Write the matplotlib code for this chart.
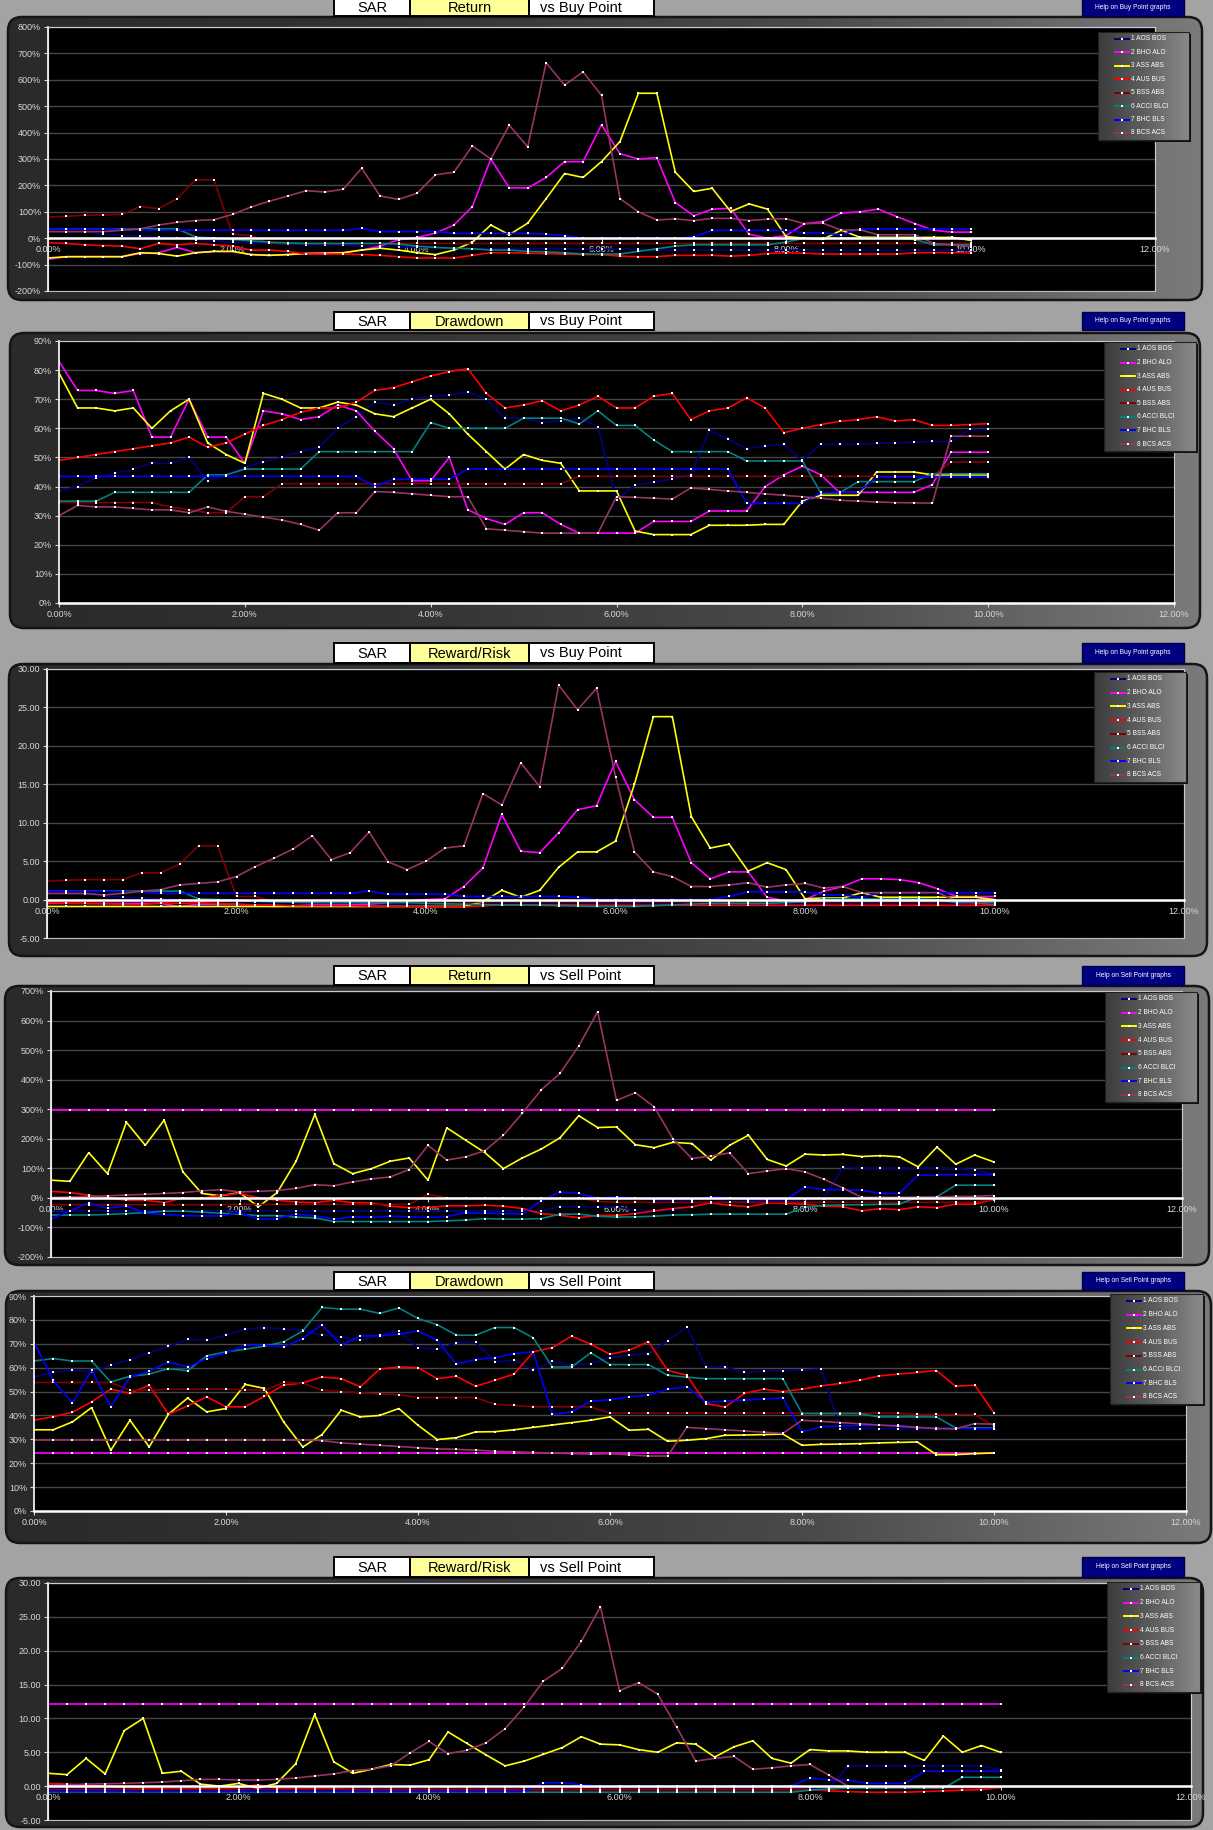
import matplotlib
matplotlib.use('Agg')
import matplotlib.pyplot as plt
from matplotlib.patches import FancyBboxPatch, Rectangle
from matplotlib.colors import LinearSegmentedColormap
import numpy as np

plt.rcParams['font.family'] = ['Liberation Sans', 'DejaVu Sans']

W, H = 1213, 1830

# SAR step (x axis, %)
SAR_PCT = [0.0, 0.2, 0.4, 0.6, 0.8, 1.0, 1.2, 1.4, 1.6, 1.8,
           2.0, 2.2, 2.4, 2.6, 2.8, 3.0, 3.2, 3.4, 3.6, 3.8,
           4.0, 4.2, 4.4, 4.6, 4.8, 5.0, 5.2, 5.4, 5.6, 5.8,
           6.0, 6.2, 6.4, 6.6, 6.8, 7.0, 7.2, 7.4, 7.6, 7.8,
           8.0, 8.2, 8.4, 8.6, 8.8, 9.0, 9.2, 9.4, 9.6, 9.8,
           10.0]

NAMES = ['1 AOS BOS', '2 BHO ALO', '3 ASS ABS', '4 AUS BUS',
         '5 BSS ABS', '6 ACCI BLCI', '7 BHC BLS', '8 BCS ACS']
COLORS = ['#000080', '#ff00ff', '#ffff00', '#ff0000',
          '#800000', '#008080', '#0000ff', '#993366']

# ---------------- Return vs Buy Point (%) ----------------
ret_buy_1 = [25, 25, 25, 15, 10, 10, 5, 0, -5, -10,
             -15, -17, -20, -22, -25, -25, -27, -30, -30, -32,
             -35, -35, -37, -40, -40, -40, -40, -40, -40, -42,
             -42, -40, -42, -45, -45, -45, -45, -45, -45, -45,
             -45, -45, -45, -45, -45, -45, -45, -45, -45, -45,
             -45]
ret_buy_2 = [-80, -70, -70, -70, -70, -58, -55, -35, -55, -50,
             -50, -62, -65, -62, -58, -55, -55, -45, -30, -6,
             3, 19, 50, 120, 300, 191, 190, 230, 290, 290,
             430, 320, 300, 305, 135, 85, 110, 113, 15, 0,
             10, 55, 63, 95, 100, 110, 82, 55, 30, 23,
             23]
ret_buy_3 = [-75, -70, -70, -70, -70, -55, -58, -68, -55, -50,
             -50, -62, -65, -62, -58, -58, -55, -45, -38, -45,
             -55, -62, -45, -15, 50, 13, 57, 150, 245, 230,
             290, 366, 549, 549, 250, 177, 189, 101, 130, 110,
             6, 0, -4, 30, 4, 3, 3, 3, 3, 3,
             -8]
ret_buy_4 = [-17, -20, -25, -28, -30, -40, -20, -25, -20, -25,
             -30, -45, -45, -50, -60, -60, -60, -62, -65, -70,
             -75, -75, -75, -65, -55, -55, -57, -58, -60, -62,
             -62, -68, -70, -70, -65, -65, -65, -68, -65, -58,
             -55, -57, -60, -60, -60, -60, -60, -55, -55, -55,
             -55]
ret_buy_5 = [80, 83, 87, 88, 90, 120, 112, 150, 222, 220,
             15, 10, -20, -20, -20, -20, -20, -20, -20, -20,
             -20, -20, -20, -20, -20, -20, -20, -20, -20, -20,
             -20, -20, -20, -20, -20, -20, -20, -20, -20, -20,
             -20, -20, -20, -20, -20, -20, -20, -20, -20, -20,
             -20]
ret_buy_6 = [35, 35, 35, 35, 35, 35, 35, 35, 5, 0,
             -5, -10, -15, -18, -20, -20, -20, -20, -20, -22,
             -30, -35, -38, -40, -45, -45, -50, -52, -55, -60,
             -60, -60, -50, -40, -30, -25, -25, -25, -25, -25,
             -15, 0, 0, 0, 0, 0, 0, -5, -25, -25,
             -25]
ret_buy_7 = [35, 35, 35, 35, 33, 32, 30, 30, 30, 30,
             30, 30, 30, 30, 30, 30, 30, 37, 25, 25,
             25, 25, 18, 18, 18, 18, 18, 15, 10, 0,
             0, 0, 0, 0, 0, 5, 30, 30, 30, 30,
             30, 20, 20, 12, 35, 35, 35, 35, 35, 35,
             35]
ret_buy_8 = [25, 25, 25, 25, 30, 35, 50, 60, 67, 70,
             90, 118, 140, 160, 180, 175, 185, 265, 160, 147,
             170, 240, 250, 350, 300, 428, 346, 664, 580, 630,
             541, 150, 100, 69, 73, 67, 75, 75, 67, 72,
             74, 55, 57, 30, 32, 13, 13, 13, -20, -25,
             -32]

# ---------------- Drawdown vs Buy Point (%) ----------------
dd_buy_1 = [38.5, 40, 43, 44.5, 46, 48, 48, 50, 42, 44,
            46.5, 48.5, 50, 52, 53.5, 60, 64, 69, 68, 70,
            71, 71.5, 72.5, 70, 63.5, 63.5, 62, 62.5, 63.5, 60.5,
            35.3, 40.5, 41.5, 42.6, 44, 59.3, 56.4, 53, 54, 54.5,
            49, 54.5, 54.5, 54.5, 54.8, 55, 55.2, 55.5, 55.5, 59.6,
            59.6]
dd_buy_2 = [83, 73, 73, 72, 73, 57, 57, 70, 57, 57,
            48, 66, 65, 63, 64, 68, 66, 59, 53, 42,
            42, 50, 32, 29, 27, 31, 31, 27, 24, 24,
            24, 24, 28, 28, 28, 31.6, 31.6, 31.6, 40, 44,
            47, 44, 38, 38, 38, 38, 38, 40.7, 51.8, 51.8,
            51.8]
dd_buy_3 = [79, 67, 67, 66, 67, 60, 66, 70, 55, 51,
            48, 72, 70, 67, 67, 69, 68, 65, 64, 67,
            70, 65, 58, 52, 46, 51, 49, 48, 38.5, 38.5,
            38.5, 24.7, 23.5, 23.5, 23.5, 26.7, 26.7, 26.7, 27, 27,
            35, 37, 37, 37, 45, 45, 45, 44, 44, 44,
            44]
dd_buy_4 = [49, 50, 51, 52, 53, 54, 55, 57, 53.5, 55,
            58, 61, 63, 65.5, 67, 67, 69, 73, 74, 76,
            78, 79.5, 80.5, 72, 67, 68, 69.5, 66, 68, 71,
            67, 67, 71, 72, 63, 66, 67, 70.5, 67, 58.5,
            60, 61.3, 62.4, 63, 64, 62.5, 63, 61, 61, 61.3,
            61.6]
dd_buy_5 = [34.5, 34.5, 34.5, 34.5, 34.5, 34.5, 33, 32, 31, 31,
            36.5, 36.5, 41, 41, 41, 41, 41, 41, 41, 41,
            41, 41, 41, 41, 41, 41, 41, 41, 43.5, 43.5,
            43.5, 43.5, 43.5, 43.5, 43.5, 43.5, 43.5, 43.5, 43.5, 43.5,
            43.5, 43.5, 43.5, 43.5, 43.5, 43.5, 43.5, 43.5, 48.4, 48.4,
            48.4]
dd_buy_6 = [35, 35, 35, 38, 38, 38, 38, 38, 44, 44,
            46, 46, 46, 46, 52, 52, 52, 52, 52, 52,
            62, 60, 60, 60, 60, 63.5, 63.5, 63.5, 61.5, 66,
            61, 61, 56, 52, 52, 52, 52, 48.8, 48.8, 48.8,
            48.8, 37.8, 37.8, 41.7, 41.7, 41.7, 41.7, 44.4, 44.4, 44.4,
            44.4]
dd_buy_7 = [43.5, 43.5, 43.5, 43.5, 43.5, 43.5, 43.5, 43.5, 43.5, 43.5,
            43.5, 43.5, 43.5, 43.5, 43.5, 43.5, 43.5, 40, 42.5, 42.5,
            42.5, 42.5, 46, 46, 46, 46, 46, 46, 46, 46,
            46, 46, 46, 46, 46, 46, 46, 34.2, 34.2, 34.2,
            34.2, 38, 38, 38, 43.3, 43.3, 43.3, 43.3, 43.3, 43.3,
            43.3]
dd_buy_8 = [30, 33.5, 33, 33, 32.5, 32, 32, 31, 33, 31.5,
            30.5, 29.5, 28.5, 27, 25, 31, 31, 38.3, 38, 37.5,
            37, 36.5, 36.5, 25.5, 25, 24.5, 24, 24, 24, 24,
            36.5, 36.3, 36, 35.7, 39.5, 39, 38.5, 38, 37.5, 37,
            36.5, 36, 35.3, 35, 34.7, 34.5, 34.4, 34.3, 57.3, 57.3,
            57.3]

# ---------------- Reward/Risk vs Buy Point ----------------
rr_buy_1 = [0.8, 0.8, 0.7, 0.5, 0.3, 0.2, 0.1, 0.0, -0.1, -0.2,
            -0.3, -0.3, -0.4, -0.4, -0.5, -0.5, -0.5, -0.6, -0.6, -0.6,
            -0.6, -0.6, -0.6, -0.6, -0.6, -0.6, -0.6, -0.6, -0.6, -0.6,
            -0.6, -0.6, -0.6, -0.6, -0.6, -0.6, -0.6, -0.6, -0.6, -0.6,
            -0.6, -0.6, -0.6, -0.6, -0.6, -0.6, -0.6, -0.6, -0.6, -0.6,
            -0.6]
rr_buy_2 = [-0.5, -0.5, -0.5, -0.5, -0.5, -0.5, -0.5, -0.9, -0.6, -0.6,
            -0.6, -0.8, -0.9, -0.8, -0.7, -0.7, -0.7, -0.6, -0.4, -0.2,
            0.0, 0.1, 1.7, 4.1, 11.1, 6.3, 6.1, 8.7, 11.7, 12.2,
            18.0, 13.0, 10.7, 10.7, 4.8, 2.7, 3.6, 3.6, 0.3, -0.2,
            0.0, 1.1, 1.7, 2.7, 2.7, 2.6, 2.2, 1.4, 0.4, 0.4,
            0.4]
rr_buy_3 = [-0.9, -0.9, -0.9, -0.9, -0.9, -0.9, -0.9, -0.9, -0.9, -0.9,
            -0.9, -0.9, -0.9, -0.9, -0.9, -0.9, -0.9, -0.9, -0.9, -0.9,
            -0.9, -0.9, -0.9, -0.3, 1.2, 0.3, 1.2, 4.2, 6.2, 6.2,
            7.6, 15.0, 23.8, 23.8, 10.8, 6.7, 7.2, 3.7, 4.8, 3.9,
            0.1, 0.2, 0.2, 0.9, 0.3, 0.3, 0.3, 0.3, 0.3, 0.3,
            0.0]
rr_buy_4 = [-0.4, -0.45, -0.5, -0.55, -0.6, -0.7, -0.4, -0.5, -0.4, -0.5,
            -0.6, -0.7, -0.7, -0.8, -0.8, -0.8, -0.8, -0.85, -0.9, -0.9,
            -0.95, -0.95, -0.95, -0.8, -0.7, -0.7, -0.7, -0.7, -0.7, -0.75,
            -0.75, -0.75, -0.75, -0.75, -0.75, -0.75, -0.75, -0.75, -0.75, -0.75,
            -0.75, -0.75, -0.75, -0.75, -0.75, -0.75, -0.75, -0.75, -0.75, -0.75,
            -0.75]
rr_buy_5 = [2.4, 2.5, 2.6, 2.6, 2.6, 3.5, 3.5, 4.6, 7.0, 7.0,
            0.4, 0.4, -0.3, -0.3, -0.3, -0.3, -0.3, -0.3, -0.3, -0.3,
            -0.3, -0.3, -0.3, -0.3, -0.3, -0.3, -0.3, -0.3, -0.3, -0.3,
            -0.3, -0.3, -0.3, -0.3, -0.3, -0.3, -0.3, -0.3, -0.3, -0.3,
            -0.3, -0.3, -0.3, -0.3, -0.3, -0.3, -0.3, -0.3, -0.3, -0.3,
            -0.3]
rr_buy_6 = [1.1, 1.1, 1.1, 1.1, 1.1, 1.1, 1.1, 1.1, 0.1, 0.0,
            -0.1, -0.2, -0.3, -0.35, -0.4, -0.4, -0.4, -0.4, -0.4, -0.4,
            -0.5, -0.55, -0.6, -0.65, -0.7, -0.7, -0.75, -0.8, -0.85, -0.9,
            -0.9, -0.9, -0.8, -0.7, -0.6, -0.5, -0.5, -0.5, -0.5, -0.4,
            -0.3, 0.1, 0.1, 0.1, 0.1, 0.1, 0.1, 0.0, -0.4, -0.4,
            -0.4]
rr_buy_7 = [1.1, 1.1, 1.1, 1.1, 1.0, 1.0, 0.8, 0.8, 0.8, 0.8,
            0.8, 0.8, 0.8, 0.8, 0.8, 0.8, 0.8, 1.1, 0.7, 0.7,
            0.7, 0.7, 0.4, 0.4, 0.4, 0.4, 0.4, 0.4, 0.3, 0.0,
            0.0, 0.0, 0.0, 0.0, 0.0, 0.0, 0.4, 1.0, 1.0, 1.0,
            1.0, 0.6, 0.6, 0.3, 0.9, 0.9, 0.9, 0.9, 0.9, 0.9,
            0.9]
rr_buy_8 = [0.8, 0.8, 0.8, 0.6, 0.8, 1.1, 1.3, 1.9, 2.1, 2.3,
            3.0, 4.3, 5.4, 6.6, 8.3, 5.2, 6.1, 8.8, 4.9, 3.9,
            5.0, 6.7, 7.0, 13.8, 12.3, 17.8, 14.7, 27.9, 24.7, 27.5,
            16.0, 6.2, 3.6, 3.0, 1.7, 1.7, 1.9, 2.2, 1.6, 1.9,
            2.1, 1.5, 1.7, 0.9, 0.9, 0.9, 0.9, 0.9, -0.2, -0.4,
            -0.7]

# ---------------- Return vs Sell Point (%) ----------------
ret_sell_1 = [-44, -44, -44, -44, -44, -44, -44, -44, -44, -44,
              -44, -44, -44, -44, -44, -44, -44, -44, -44, -44,
              -44, -44, -44, -44, -44, -44, -44, -30, -30, -30,
              -30, -42, -42, -42, -30, -13, -13, -13, -13, -13,
              -5, -3, 103, 100, 100, 100, 100, 100, 99, 96,
              80]
ret_sell_2 = [296, 296, 296, 296, 296, 296, 296, 296, 296, 296,
              296, 296, 296, 296, 296, 296, 296, 296, 296, 296,
              296, 296, 296, 296, 296, 296, 296, 296, 296, 296,
              296, 296, 296, 296, 296, 296, 296, 296, 296, 296,
              296, 296, 296, 296, 296, 296, 296, 296, 296, 296,
              296]
ret_sell_3 = [60, 56, 153, 82, 256, 178, 263, 88, 15, 7,
              18, -30, 18, 124, 283, 116, 82, 99, 124, 135,
              60, 237, 195, 154, 99, 135, 165, 203, 278, 238,
              240, 180, 170, 188, 184, 128, 178, 212, 130, 108,
              148, 145, 147, 140, 143, 139, 105, 172, 114, 145,
              122]
ret_sell_4 = [22, 18, 9, 0, -8, -8, -16, 0, -2, 9,
              15, 0, -8, -14, -16, -8, -16, -17, -28, -33,
              -33, -27, -27, -25, -28, -36, -53, -59, -67, -59,
              -59, -53, -44, -36, -30, -17, -25, -30, -17, -19,
              -21, -28, -30, -44, -36, -40, -30, -33, -21, -21,
              -6]
ret_sell_5 = [-23, -23, -23, -23, -23, -23, -23, -23, -23, -23,
              -22, -22, -22, -22, -22, -22, -22, -22, -22, -22,
              12, 0, 0, 0, 0, 0, 0, 0, 0, -12,
              -15, -15, -15, -15, -15, -15, -15, -15, -15, -15,
              -15, -15, -15, -15, -15, -15, -15, -15, -15, -15,
              -5]
ret_sell_6 = [-58, -58, -58, -56, -53, -50, -45, -45, -48, -52,
              -55, -60, -60, -65, -68, -80, -80, -80, -80, -80,
              -80, -78, -75, -70, -72, -72, -70, -55, -55, -62,
              -65, -64, -62, -58, -57, -55, -55, -55, -55, -55,
              -32, -25, -24, -23, -22, -21, 3, 4, 43, 43,
              43]
ret_sell_7 = [-72, -44, -17, -35, -27, -52, -56, -60, -61, -61,
              -50, -72, -70, -55, -61, -72, -64, -66, -62, -64,
              -66, -63, -50, -52, -53, -55, -10, 20, 15, 0,
              3, 0, -6, -6, -6, 3, 0, -6, -6, -6,
              37, 28, 28, 26, 15, 15, 77, 77, 79, 79,
              79]
ret_sell_8 = [2, 3, 5, 7, 10, 12, 15, 18, 24, 28,
              20, 22, 25, 32, 45, 41, 54, 64, 71, 96,
              178, 128, 139, 159, 212, 286, 365, 421, 514, 630,
              330, 356, 308, 199, 133, 142, 152, 82, 91, 99,
              88, 63, 34, 2, 2, 2, 3, 3, 5, 5,
              8]

# ---------------- Drawdown vs Sell Point (%) ----------------
dd_sell_1 = [56.1, 58, 59, 58.2, 61, 63.4, 66.2, 69, 71.8, 71.5,
             73.6, 76.1, 76.8, 76.1, 75.7, 73.6, 72.9, 71.5, 73.6, 75.3,
             68.4, 67.7, 70.4, 70.6, 62.4, 63.1, 59, 62.7, 61, 61.7,
             64.2, 65.2, 65.9, 71.2, 77.1, 60.3, 60.3, 58, 58.5, 58.8,
             59, 59.4, 34.5, 34.5, 34.5, 34.5, 34.5, 34.5, 34.5, 34.5,
             34.5]
dd_sell_2 = [24.3, 24.3, 24.3, 24.3, 24.3, 24.3, 24.3, 24.3, 24.3, 24.3,
             24.3, 24.3, 24.3, 24.3, 24.3, 24.3, 24.3, 24.3, 24.3, 24.3,
             24.3, 24.3, 24.3, 24.3, 24.3, 24.3, 24.3, 24.3, 24.3, 24.3,
             24.3, 24.3, 24.3, 24.3, 24.3, 24.3, 24.3, 24.3, 24.3, 24.3,
             24.3, 24.3, 24.3, 24.3, 24.3, 24.3, 24.3, 24.3, 24.3, 24.3,
             24.3]
dd_sell_3 = [34, 34, 37.3, 43.3, 25.4, 38, 26.8, 40.5, 47.3, 41.5,
             42.9, 53, 51.3, 37.3, 26.8, 32, 42.2, 39.4, 40, 42.9,
             35.9, 29.9, 30.7, 33.1, 33.2, 34, 35, 36, 37, 38,
             39.4, 33.8, 34.2, 29.2, 29.6, 30.3, 31.7, 31.8, 32, 32.2,
             27.5, 27.9, 28, 28.2, 28.5, 28.7, 28.9, 23.6, 23.6, 24,
             24.3]
dd_sell_4 = [38, 39.5, 41.3, 45.7, 51, 49.2, 52.7, 40.5, 44, 47.8,
             43.6, 43.6, 48, 52.7, 53.6, 56.1, 55.4, 52, 59.4, 60.3,
             60, 55.4, 56.4, 52.2, 54.7, 57.3, 66.6, 68.4, 73.2, 69.8,
             65.6, 67.3, 70.9, 58.9, 56.8, 45, 43.5, 49.2, 51, 50,
             51, 52.4, 53.4, 54.7, 56.5, 57.3, 58, 58.8, 52.2, 52.7,
             41]
dd_sell_5 = [53.8, 53.8, 53.8, 53.8, 53.8, 50.5, 50.5, 51, 51, 51,
             51, 50.8, 50.5, 53.8, 53.5, 50.5, 50, 49.5, 49, 48.7,
             47.5, 47.5, 47.5, 47.5, 44.7, 44.2, 43.6, 43.6, 43.6, 43.6,
             41, 41, 41, 41, 41, 41, 41, 41, 41, 41,
             41, 41, 41, 41, 41, 41, 40.4, 40.4, 40.4, 40.4,
             35.5]
dd_sell_6 = [62.8, 63.8, 62.8, 62.8, 54, 56.4, 57.3, 59.6, 58.7, 65,
             66.6, 67.7, 69, 70.8, 75.4, 85.2, 84.5, 84.5, 82.7, 85,
             80.6, 78, 73.6, 73.6, 76.8, 76.8, 72.5, 60.3, 60.3, 66.2,
             61.3, 61.3, 61.3, 56.8, 56, 55.4, 55.4, 55.4, 55.4, 55.4,
             40.8, 40.8, 40.8, 40.8, 39.4, 39.4, 39.4, 39.4, 34.8, 34.8,
             34.8]
dd_sell_7 = [70.8, 54.7, 45.2, 59, 43.6, 56.1, 58.5, 62.4, 60.3, 63.8,
             66.2, 69.4, 69.4, 68.7, 72.2, 78, 69.4, 73.3, 73.3, 74,
             75.4, 71.5, 61.5, 63.4, 64.2, 65.9, 66.6, 40.4, 41.5, 46,
             46.6, 47.8, 48.5, 51, 52, 45.5, 46, 46.5, 46.9, 47.3,
             33.1, 35.3, 35.5, 35.8, 35.9, 35.9, 34.9, 34.7, 34.6, 34.5,
             34.5]
dd_sell_8 = [29.7, 29.7, 29.7, 29.7, 29.7, 29.7, 29.7, 29.7, 29.7, 29.7,
             29.7, 29.7, 29.7, 29.7, 29.7, 29.5, 28.5, 28, 27.5, 27,
             26.5, 26, 25.8, 25.5, 25, 24.8, 24.5, 24.3, 24, 23.8,
             24, 23.5, 23, 23, 35, 34.5, 34, 33.5, 33, 32.5,
             38, 37.5, 37, 36.5, 36, 35.5, 35, 34.5, 34.4, 36.6,
             36.3]

# ---------------- Reward/Risk vs Sell Point ----------------
rr_sell_1 = [-0.3, -0.3, -0.3, -0.3, -0.3, -0.3, -0.3, -0.3, -0.3, -0.3,
             -0.3, -0.3, -0.3, -0.3, -0.3, -0.3, -0.3, -0.3, -0.3, -0.3,
             -0.3, -0.3, -0.3, -0.3, -0.3, -0.3, -0.3, -0.3, -0.3, -0.3,
             -0.3, -0.3, -0.3, -0.3, -0.3, -0.3, -0.3, -0.3, -0.3, -0.3,
             -0.3, -0.3, 3.0, 3.0, 3.0, 3.0, 3.0, 3.0, 3.0, 3.0,
             2.4]
rr_sell_2 = [12.1, 12.1, 12.1, 12.1, 12.1, 12.1, 12.1, 12.1, 12.1, 12.1,
             12.1, 12.1, 12.1, 12.1, 12.1, 12.1, 12.1, 12.1, 12.1, 12.1,
             12.1, 12.1, 12.1, 12.1, 12.1, 12.1, 12.1, 12.1, 12.1, 12.1,
             12.1, 12.1, 12.1, 12.1, 12.1, 12.1, 12.1, 12.1, 12.1, 12.1,
             12.1, 12.1, 12.1, 12.1, 12.1, 12.1, 12.1, 12.1, 12.1, 12.1,
             12.1]
rr_sell_3 = [1.9, 1.7, 4.1, 1.8, 8.2, 10.0, 1.9, 2.2, 0.3, 0.0,
             0.4, -0.3, 0.4, 3.3, 10.6, 3.6, 1.9, 2.5, 3.2, 3.1,
             3.9, 8.0, 6.3, 4.6, 3.0, 3.7, 4.7, 5.7, 7.3, 6.2,
             6.1, 5.4, 5.0, 6.4, 6.2, 4.3, 5.8, 6.7, 4.1, 3.4,
             5.4, 5.2, 5.2, 5.0, 5.0, 5.0, 3.8, 7.4, 5.0, 6.0,
             5.0]
rr_sell_4 = [0.4, 0.3, 0.1, 0.0, -0.2, -0.3, -0.4, -0.4, -0.4, -0.4,
             -0.2, 0.2, -0.3, -0.4, -0.4, -0.4, -0.5, -0.5, -0.5, -0.5,
             -0.5, -0.5, -0.5, -0.5, -0.5, -0.5, -0.5, -0.5, -0.5, -0.5,
             -0.5, -0.5, -0.5, -0.5, -0.5, -0.5, -0.5, -0.5, -0.5, -0.5,
             -0.5, -0.7, -0.8, -0.9, -0.9, -0.9, -0.8, -0.7, -0.6, -0.5,
             -0.2]
rr_sell_5 = [-0.5, -0.5, -0.5, -0.5, -0.5, -0.5, -0.5, -0.5, -0.5, -0.5,
             -0.5, -0.5, -0.5, -0.5, -0.5, -0.5, -0.5, -0.5, -0.5, -0.5,
             -0.5, -0.5, -0.5, -0.5, -0.5, -0.5, -0.5, -0.5, -0.5, -0.5,
             -0.5, -0.5, -0.5, -0.5, -0.5, -0.5, -0.5, -0.5, -0.5, -0.5,
             -0.5, -0.5, -0.2, -0.2, -0.2, -0.2, -0.2, -0.2, -0.2, -0.2,
             -0.2]
rr_sell_6 = [-0.9, -0.9, -0.9, -0.9, -0.9, -0.9, -0.9, -0.9, -0.9, -0.9,
             -0.9, -0.9, -0.9, -0.9, -0.9, -0.9, -0.9, -0.9, -0.9, -0.9,
             -0.9, -0.9, -0.9, -0.9, -0.9, -0.9, -0.9, -0.9, -0.9, -0.9,
             -0.9, -0.9, -0.9, -0.9, -0.9, -0.9, -0.9, -0.9, -0.9, -0.9,
             -0.6, -0.4, -0.3, -0.3, -0.3, -0.3, -0.3, -0.3, 1.3, 1.3,
             1.3]
rr_sell_7 = [-0.8, -0.8, -0.8, -0.8, -0.8, -0.8, -0.8, -0.8, -0.8, -0.8,
             -0.8, -0.8, -0.8, -0.8, -0.8, -0.8, -0.8, -0.8, -0.8, -0.8,
             -0.8, -0.8, -0.8, -0.8, -0.8, -0.8, 0.5, 0.5, 0.2, 0.0,
             0.0, 0.0, 0.0, 0.0, 0.0, 0.0, 0.0, 0.0, 0.0, 0.0,
             1.2, 0.9, 0.9, 0.4, 0.4, 0.4, 2.2, 2.2, 2.2, 2.2,
             2.2]
rr_sell_8 = [0.15, 0.2, 0.3, 0.35, 0.4, 0.5, 0.6, 0.8, 1.0, 1.0,
             0.9, 0.9, 1.0, 1.2, 1.5, 1.8, 2.3, 2.5, 3.0, 4.9,
             6.6, 4.8, 5.3, 6.4, 8.5, 11.7, 15.5, 17.4, 21.4, 26.5,
             14.1, 15.3, 13.6, 8.7, 3.7, 4.1, 4.4, 2.5, 2.7, 3.0,
             3.2, 1.6, 0.0, -0.1, -0.2, -0.2, -0.2, -0.2, -0.2, -0.2,
             -0.2]

RET_BUY = [ret_buy_1, ret_buy_2, ret_buy_3, ret_buy_4, ret_buy_5, ret_buy_6, ret_buy_7, ret_buy_8]
DD_BUY = [dd_buy_1, dd_buy_2, dd_buy_3, dd_buy_4, dd_buy_5, dd_buy_6, dd_buy_7, dd_buy_8]
RR_BUY = [rr_buy_1, rr_buy_2, rr_buy_3, rr_buy_4, rr_buy_5, rr_buy_6, rr_buy_7, rr_buy_8]
RET_SELL = [ret_sell_1, ret_sell_2, ret_sell_3, ret_sell_4, ret_sell_5, ret_sell_6, ret_sell_7, ret_sell_8]
DD_SELL = [dd_sell_1, dd_sell_2, dd_sell_3, dd_sell_4, dd_sell_5, dd_sell_6, dd_sell_7, dd_sell_8]
RR_SELL = [rr_sell_1, rr_sell_2, rr_sell_3, rr_sell_4, rr_sell_5, rr_sell_6, rr_sell_7, rr_sell_8]

# layout in pixels: frame, plot area, header band, legend box
PANELS = [
    dict(data=RET_BUY, frame=(8, 17, 1202, 300), plot=(48, 27, 1155, 291),
         ylim=(-200, 800), step=100, fmt='pct', cross=True, head=(-1, 16),
         title='Return', side='Buy', legend=(1098, 32, 1189, 140)),
    dict(data=DD_BUY, frame=(10, 333, 1200, 628), plot=(59, 341, 1174, 603),
         ylim=(0, 90), step=10, fmt='pct', cross=False, head=(312, 330),
         title='Drawdown', side='Buy', legend=(1104, 342, 1196, 451)),
    dict(data=RR_BUY, frame=(9, 664, 1207, 956), plot=(47, 669, 1184, 938),
         ylim=(-5, 30), step=5, fmt='num', cross=True, head=(643, 663),
         title='Reward/Risk', side='Buy', legend=(1094, 672, 1186, 782)),
    dict(data=RET_SELL, frame=(5, 986, 1209, 1265), plot=(51, 991, 1182, 1257),
         ylim=(-200, 700), step=100, fmt='pct', cross=True, head=(966, 985),
         title='Return', side='Sell', legend=(1105, 992, 1197, 1102)),
    dict(data=DD_SELL, frame=(6, 1291, 1211, 1543), plot=(34, 1296, 1186, 1511),
         ylim=(0, 90), step=10, fmt='pct', cross=False, head=(1272, 1290),
         title='Drawdown', side='Sell', legend=(1110, 1294, 1203, 1404)),
    dict(data=RR_SELL, frame=(6, 1578, 1203, 1827), plot=(48, 1583, 1191, 1820),
         ylim=(-5, 30), step=5, fmt='num', cross=True, head=(1557, 1577),
         title='Reward/Risk', side='Sell', legend=(1107, 1582, 1200, 1692)),
]

fig = plt.figure(figsize=(W / 100, H / 100), dpi=100)
fig.patch.set_facecolor('#a3a3a3')

bg = fig.add_axes([0, 0, 1, 1], zorder=0)
top = fig.add_axes([0, 0, 1, 1], zorder=5)

frame_cmap = LinearSegmentedColormap.from_list('frm', ['#2a2a2a', '#343434', '#4a4a4a', '#7a7a7a'])
leg_cmap = LinearSegmentedColormap.from_list('leg', ['#3c3c3c', '#5e5e5e', '#8a8a8a'])
grad = np.linspace(0, 1, 256).reshape(1, -1)

for p in PANELS:
    # rounded dark frame
    x0, y0, x1, y1 = p['frame']
    box = FancyBboxPatch((x0, y0), x1 - x0, y1 - y0,
                         boxstyle='round,pad=0,rounding_size=14',
                         fc='none', ec='#151515', lw=1.8, zorder=2)
    bg.add_patch(box)
    im = bg.imshow(grad, cmap=frame_cmap, extent=(x0, x1, y1, y0),
                   aspect='auto', zorder=1, interpolation='bilinear')
    im.set_clip_path(box)

    # header buttons
    h0, h1 = p['head']
    for bx0, bx1, txt, fc, ha in [(334, 410, 'SAR', 'white', 'center'),
                                  (410, 529, p['title'], '#ffff99', 'center'),
                                  (529, 654, 'vs ' + p['side'] + ' Point', 'white', 'left')]:
        bg.add_patch(Rectangle((bx0, h0), bx1 - bx0, h1 - h0, fc=fc, ec='black', lw=1.4, zorder=3))
        tx = (bx0 + bx1) / 2 if ha == 'center' else bx0 + 11
        bg.text(tx, (h0 + h1) / 2 + 0.5, txt, ha=ha, va='center', fontsize=10.5,
                color='black', zorder=4)
    bg.add_patch(Rectangle((1082, h0), 102, h1 - h0, fc='#000080', ec='#00004a', lw=1, zorder=3))
    bg.text(1133, (h0 + h1) / 2, 'Help on ' + p['side'] + ' Point graphs', ha='center',
            va='center', fontsize=4.8, color='white', zorder=4)

    # plot area
    px0, py0, px1, py1 = p['plot']
    ax = fig.add_axes([px0 / W, 1 - py1 / H, (px1 - px0) / W, (py1 - py0) / H], zorder=2)
    ax.set_facecolor('black')
    for vals, col in zip(p['data'], COLORS):
        ax.plot(SAR_PCT, vals, color=col, lw=1.2, marker='s', ms=1.5,
                mfc='white', mec='white', mew=0, zorder=2)
    ax.set_xlim(0, 12)
    lo, hi = p['ylim']
    ax.set_ylim(lo, hi)
    yt = np.arange(lo, hi + 0.001, p['step'])
    ax.set_yticks(yt)
    if p['fmt'] == 'pct':
        ax.set_yticklabels(['%d%%' % v for v in yt])
    else:
        ax.set_yticklabels(['%.2f' % v for v in yt])
    ax.set_xticks([0, 2, 4, 6, 8, 10, 12])
    ax.set_xticklabels(['0.00%', '2.00%', '4.00%', '6.00%', '8.00%', '10.00%', '12.00%'])
    ax.grid(axis='y', color='#474747', lw=1, zorder=0)
    ax.set_axisbelow(True)
    for s in ['top', 'right']:
        ax.spines[s].set_color('#c8c8d8')
        ax.spines[s].set_linewidth(0.8)
    ax.spines['left'].set_color('#f0f0f0')
    ax.spines['left'].set_linewidth(1.3)
    ax.spines['bottom'].set_color('white')
    ax.spines['bottom'].set_linewidth(1.8)
    if p['cross']:
        ax.spines['bottom'].set_position(('data', 0))
        ax.add_patch(Rectangle((0, 0), 1, 1, transform=ax.transAxes, fill=False,
                               ec='#b8b8c8', lw=0.8, clip_on=False, zorder=1))
    ax.tick_params(axis='both', labelsize=6.5, colors='#d8d8d8', length=3, width=0.8, pad=2)

    # legend box
    lx0, ly0, lx1, ly1 = p['legend']
    top.add_patch(Rectangle((lx0 + 2, ly0 + 2), lx1 - lx0, ly1 - ly0, fc='#101010', ec='none', zorder=1))
    lbox = Rectangle((lx0, ly0), lx1 - lx0, ly1 - ly0, fc='none', ec='#202020', lw=0.8, zorder=3)
    top.add_patch(lbox)
    lim = top.imshow(grad, cmap=leg_cmap, extent=(lx0, lx1, ly1, ly0), aspect='auto',
                     zorder=2, interpolation='bilinear')
    lim.set_clip_path(lbox)
    gap = (ly1 - ly0 - 14) / 7.0
    for i, (nm, col) in enumerate(zip(NAMES, COLORS)):
        yy = ly0 + 7 + i * gap
        top.plot([lx0 + 17, lx0 + 31], [yy, yy], color=col, lw=1.4, zorder=4)
        top.plot([lx0 + 24], [yy], marker='s', ms=1.5, color='white', mew=0, zorder=5)
        top.text(lx0 + 33, yy, nm, fontsize=4.8, color='white', va='center', ha='left', zorder=5)

for a in (bg, top):
    a.set_xlim(0, W)
    a.set_ylim(H, 0)
    a.axis('off')

fig.savefig('out.png', dpi=100, facecolor=fig.get_facecolor())
